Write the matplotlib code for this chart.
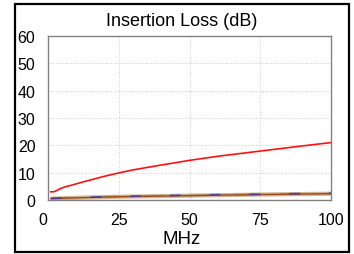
import matplotlib.pyplot as plt
import matplotlib.transforms as mtrans
from matplotlib.patches import Rectangle

plt.rcParams['font.family'] = ['Liberation Sans', 'DejaVu Sans']

# Insertion loss curves
freq = [1, 2, 3, 4, 6, 9, 12, 16, 20, 25, 30, 40, 50, 60, 75, 90, 100]
loss_red = [3.0, 3.0, 3.4, 4.0, 4.8, 5.6, 6.5, 7.6, 8.7, 9.9, 11.0, 12.8, 14.5, 16.0, 17.9, 19.8, 21.0]

freq_low = [1, 10, 25, 50, 75, 100]
loss_blue = [0.6, 0.9, 1.3, 1.8, 2.1, 2.5]
loss_green = [0.6, 0.9, 1.3, 1.7, 2.1, 2.4]
loss_tan = [0.5, 0.8, 1.2, 1.6, 2.0, 2.3]
loss_brown = [0.5, 0.8, 1.2, 1.6, 2.0, 2.3]

x_ticks = [0, 25, 50, 75, 100]
y_ticks = [0, 10, 20, 30, 40, 50, 60]

fig = plt.figure(figsize=(3.54, 2.55), dpi=100)
ax = fig.add_axes([48 / 354, 54 / 255, 283 / 354, 164 / 255])

ax.plot(freq_low, loss_green, color='#70b070', lw=1.5, dashes=(10, 12))
ax.plot(freq_low, loss_tan, color='#c8a07a', lw=3, alpha=0.8, solid_capstyle='butt')
ax.plot(freq_low, loss_brown, color='#9a4a1a', lw=1)
ax.plot(freq_low, loss_blue, color='#3030c0', lw=1.3, alpha=0.7, dashes=(6, 16))
ax.plot(freq, loss_red, color='#ff1010', lw=1.2)

ax.set_xlim(0, 100)
ax.set_ylim(0, 60)
ax.set_xticks(x_ticks)
ax.set_yticks(y_ticks)
ax.tick_params(length=0, labelsize=11.5, pad=9)
ax.grid(True, color='#bdbdbd', ls=(0, (1, 2)), lw=0.6)
for s in ax.spines.values():
    s.set_color('#808080')
    s.set_linewidth(1)

# nudge the "0" x label left like the original
lab0 = ax.get_xticklabels()[0]
lab0.set_transform(lab0.get_transform() + mtrans.ScaledTranslation(-5 / 100, 0, fig.dpi_scale_trans))

fig.text(182 / 354, 1 - 21 / 255, 'Insertion Loss (dB)', ha='center', va='center', fontsize=13)
fig.text(182 / 354, 1 - 240 / 255, 'MHz', ha='center', va='center', fontsize=13.5)

fig.patches.append(Rectangle((15 / 354, 2 / 255), 334 / 354, 248 / 255, transform=fig.transFigure,
                             fill=False, edgecolor='black', lw=1.6))

fig.savefig('out.png', dpi=100)
